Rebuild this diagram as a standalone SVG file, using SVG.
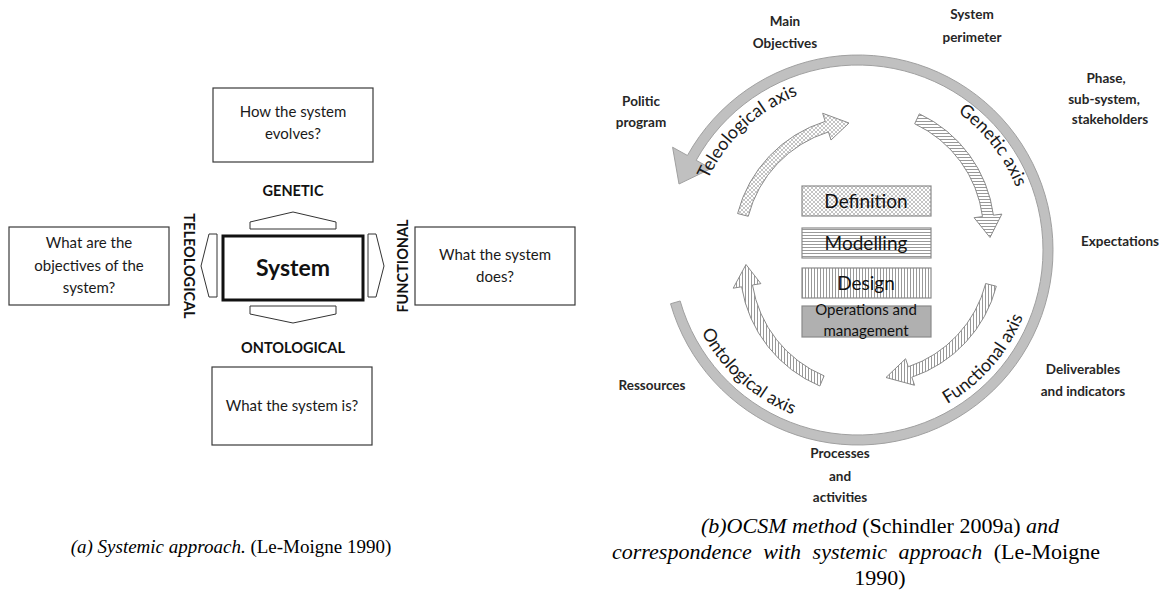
<svg xmlns="http://www.w3.org/2000/svg" width="1173" height="605" viewBox="0 0 1173 605">
<style>
.box{fill:#fff;stroke:#3a3a3a;stroke-width:1.2}
.t{font-family:Lato,"Open Sans",sans-serif;font-size:15px;fill:#1a1a1a;text-anchor:middle}
.b{font-family:Lato,"Open Sans",sans-serif;font-size:13.5px;font-weight:bold;fill:#262626;text-anchor:middle}
.lb{font-family:Lato,"Open Sans",sans-serif;font-size:14.5px;font-weight:bold;fill:#111;text-anchor:middle}
.ax{font-family:Lato,"Open Sans",sans-serif;font-size:18px;fill:#1a1a1a;text-anchor:middle}
.st{font-family:Lato,"Open Sans",sans-serif;fill:#111;text-anchor:middle}
.pa{fill:#fff;stroke:#333;stroke-width:1}
.ar{stroke:#8a8a8a;stroke-width:1}
.big{fill:#c0c0c0;stroke:#a0a0a0;stroke-width:1}
.phase{stroke:#8a8a8a;stroke-width:1.2}
.cap{font-family:"Liberation Serif",serif;font-size:19px;fill:#000}
.capb{font-family:"Liberation Serif",serif;font-size:22px;fill:#000}
</style>
<defs>
<pattern id="pCross" width="4" height="4" patternUnits="userSpaceOnUse"><rect width="4" height="4" fill="#fff"/><path d="M0,0 L4,4 M4,0 L0,4" stroke="#aaa" stroke-width="0.7"/></pattern>
<pattern id="pHor" width="3" height="3" patternUnits="userSpaceOnUse"><rect width="3" height="3" fill="#fff"/><path d="M0,1.5 H3" stroke="#999" stroke-width="1"/></pattern>
<pattern id="pVer" width="3" height="3" patternUnits="userSpaceOnUse"><rect width="3" height="3" fill="#fff"/><path d="M1.5,0 V3" stroke="#999" stroke-width="1"/></pattern>
<path id="tpTele" d="M693.24,229.77 A166,166 0 0 1 849.31,84.23"/>
<path id="tpGen" d="M893.92,83.84 A170,170 0 0 1 1027.87,256.53"/>
<path id="tpFun" d="M885.85,425.81 A178,178 0 0 0 1035.97,253.11"/>
<path id="tpOnt" d="M682.72,274.63 A177,177 0 0 0 851.82,426.89"/>
</defs>

<!-- (a) Systemic approach -->
<g id="top-box"><rect class="box" x="213" y="88" width="160" height="74"/><text class="t" x="293" y="117">How the system</text><text class="t" x="293" y="139">evolves?</text></g>
<g id="left-box"><rect class="box" x="9" y="227" width="160" height="78"/><text class="t" x="89" y="248">What are the</text><text class="t" x="89" y="271">objectives of the</text><text class="t" x="89" y="293">system?</text></g>
<g id="right-box"><rect class="box" x="415" y="227" width="160" height="78"/><text class="t" x="495" y="260">What the system</text><text class="t" x="495" y="282">does?</text></g>
<g id="bottom-box"><rect class="box" x="212" y="367" width="160" height="78"/><text class="t" x="292" y="411">What the system is?</text></g>
<g id="system"><rect x="223" y="236" width="140" height="64" fill="#fff" stroke="#111" stroke-width="3"/><text class="st" x="293" y="276" font-size="23" font-weight="bold">System</text></g>
<g id="arrows-a">
<polygon class="pa" points="250,229 250,222 293,212 336,222 336,229"/>
<polygon class="pa" points="250,306 336,306 336,314 293,323 250,314"/>
<polygon class="pa" points="217,234 209,234 201,266 209,297 217,297"/>
<polygon class="pa" points="368,234 376,234 384,266 376,297 368,297"/>
</g>
<g id="labels-a">
<text class="lb" x="293" y="196">GENETIC</text>
<text class="lb" x="293" y="353">ONTOLOGICAL</text>
<text class="lb" transform="translate(184,266) rotate(90)">TELEOLOGICAL</text>
<text class="lb" transform="translate(408,266) rotate(-90)">FUNCTIONAL</text>
</g>

<!-- (b) OCSM -->
<g id="connectors">
<path id="big-arc" class="big" d="M680.16,300.99 L670.55,303.75 A195,195 0 1 0 687.45,155.46 L672.58,147.22 L679,184 L711.07,168.55 L696.20,160.31 A185,185 0 1 1 680.16,300.99 Z"/>
<path id="tele-arrow" class="ar" fill="url(#pCross)" d="M737.60,213.54 A130.5,130.5 0 0 1 825.19,121.40 L822.66,113.28 L849,123 L830.99,140.02 L828.46,131.90 A119.5,119.5 0 0 0 748.25,216.28 Z"/>
<path id="gen-arrow" class="ar" fill="url(#pHor)" d="M919.36,113.82 A130.5,130.5 0 0 1 993.42,215.19 L1001.85,214.10 L990,237.5 L974.08,217.70 L982.51,216.61 A119.5,119.5 0 0 0 914.69,123.78 Z"/>
<path id="ont-arrow" class="ar" fill="url(#pVer)" d="M819.83,386.01 A130.5,130.5 0 0 1 741.61,286.79 L733.22,288.16 L746,264.5 L760.85,283.64 L752.47,285.01 A119.5,119.5 0 0 0 824.09,375.87 Z"/>
<path id="fun-arrow" class="ar" fill="url(#pVer)" d="M996.34,286.28 A130.5,130.5 0 0 1 911.84,377.21 L914.56,385.26 L886,377.5 L905.59,358.74 L908.31,366.79 A119.5,119.5 0 0 0 985.69,283.52 Z"/>
</g>
<g id="axis-labels">
<text class="ax"><textPath href="#tpTele" startOffset="50%">Teleological axis</textPath></text>
<text class="ax"><textPath href="#tpGen" startOffset="50%">Genetic axis</textPath></text>
<text class="ax"><textPath href="#tpFun" startOffset="50%">Functional axis</textPath></text>
<text class="ax"><textPath href="#tpOnt" startOffset="50%">Ontological axis</textPath></text>
</g>
<g id="definition"><rect class="phase" x="802" y="186" width="129" height="30" fill="url(#pCross)"/><text class="st" x="866" y="208" font-size="19">Definition</text></g>
<g id="modelling"><rect class="phase" x="802" y="228" width="129" height="30" fill="url(#pHor)"/><text class="st" x="866" y="250" font-size="19">Modelling</text></g>
<g id="design"><rect class="phase" x="802" y="268" width="129" height="30" fill="url(#pVer)"/><text class="st" x="866" y="290" font-size="19">Design</text></g>
<g id="operations"><rect class="phase" x="802" y="306" width="129" height="31" fill="#b0b0b0"/><text class="st" x="866" y="315" font-size="15">Operations and</text><text class="st" x="866" y="336" font-size="15">management</text></g>

<g id="labels-b">
<text class="b" x="785" y="26">Main</text><text class="b" x="785" y="48">Objectives</text>
<text class="b" x="972" y="19">System</text><text class="b" x="972" y="42">perimeter</text>
<text class="b" x="641" y="106">Politic</text><text class="b" x="641" y="127">program</text>
<text class="b" x="1106" y="83">Phase,</text><text class="b" x="1104" y="104">sub-system,</text><text class="b" x="1110" y="124">stakeholders</text>
<text class="b" x="1120" y="246">Expectations</text>
<text class="b" x="1083" y="374">Deliverables</text><text class="b" x="1083" y="396">and indicators</text>
<text class="b" x="652" y="390">Ressources</text>
<text class="b" x="840" y="458">Processes</text><text class="b" x="840" y="481">and</text><text class="b" x="840" y="502">activities</text>
</g>

<g id="captions">
<text class="cap" x="231" y="553" text-anchor="middle"><tspan font-style="italic">(a) Systemic approach.</tspan> (Le-Moigne 1990)</text>
<text class="capb" x="880" y="533" text-anchor="middle"><tspan font-style="italic">(b)OCSM method</tspan> (Schindler 2009a) <tspan font-style="italic">and</tspan></text>
<text class="capb" x="612" y="559" word-spacing="6"><tspan font-style="italic">correspondence with systemic approach</tspan> (Le-Moigne</text>
<text class="capb" x="880" y="585" text-anchor="middle">1990)</text>
</g>
</svg>
